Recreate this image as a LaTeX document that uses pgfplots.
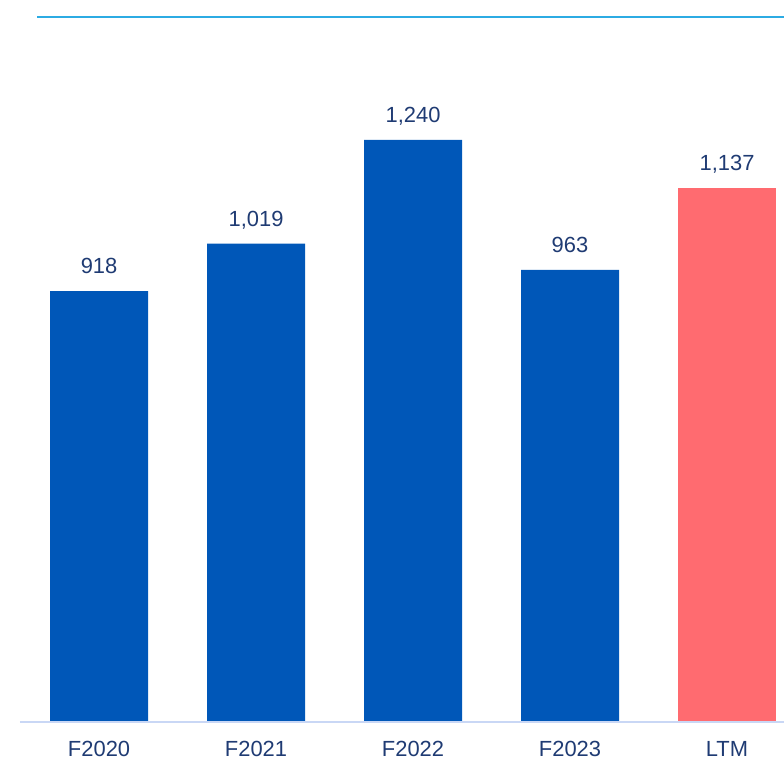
\documentclass[border=0pt]{standalone}
\usepackage{fontspec}
\setmainfont{Liberation Sans}
\usepackage{pgfplots}
\pgfplotsset{compat=1.18}
\definecolor{barblue}{HTML}{0057B8}
\definecolor{barred}{HTML}{FF6B70}
\definecolor{txtnavy}{HTML}{1F3B73}
\definecolor{toplinecol}{HTML}{2CABE3}
\definecolor{baselinecol}{HTML}{C9D7F5}
\begin{document}
\begin{tikzpicture}
\path[use as bounding box] (0,-38bp) rectangle (784bp,722bp);
\begin{axis}[
  at={(0,0)}, anchor=south west,
  scale only axis, width=784bp, height=705bp,
  xmin=-0.631, xmax=4.363, ymin=0, ymax=1502,
  ybar, bar width=98bp, bar shift=0pt,
  axis line style={draw=none},
  major tick length=0pt,
  ytick=\empty,
  xtick={0,1,2,3,4},
  xticklabels={F2020,F2021,F2022,F2023,LTM},
  xticklabel style={anchor=base, inner sep=0.5bp, yshift=-34.5bp, font=\fontsize{22}{26}\selectfont, text=txtnavy},
  nodes near coords,
  every node near coord/.append style={anchor=base, yshift=17.5bp, font=\fontsize{22}{26}\selectfont, text=txtnavy},
  /pgf/number format/assume math mode=true,
  /pgf/number format/1000 sep={,},
  clip=false,
]
\addplot[fill=barblue, draw=none] coordinates {(0,918) (1,1019) (2,1240) (3,963)};
\addplot[fill=barred, draw=none] coordinates {(4,1137)};
\draw[baselinecol, line width=1.5bp] (axis cs:-0.504,0) -- (axis cs:4.363,0);
\draw[toplinecol, line width=1.5bp] (axis cs:-0.395,1502) -- (axis cs:4.363,1502);
\end{axis}
\end{tikzpicture}
\end{document}
